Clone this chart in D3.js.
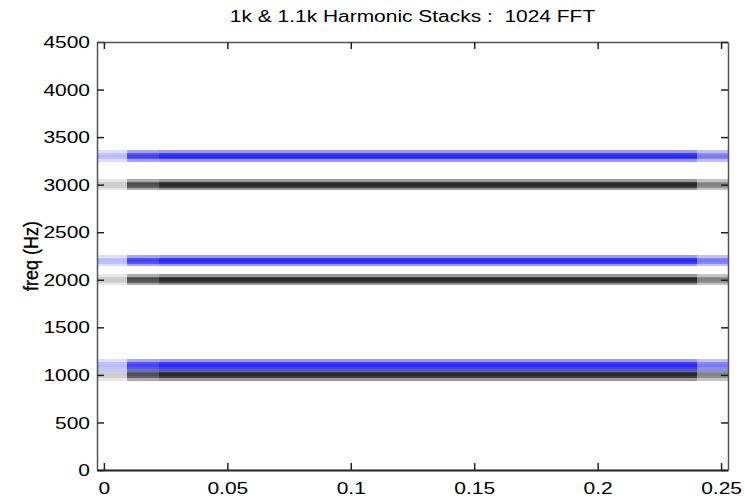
<!DOCTYPE html>
<html><head><meta charset="utf-8">
<script src="https://cdn.jsdelivr.net/npm/d3@7"></script>
<style>
html,body{margin:0;padding:0;background:#fff;}
svg{display:block;font-family:"Liberation Sans",Arial,sans-serif;}
</style></head><body>
<svg id="chart" width="745" height="501"></svg>
<script>
// Harmonic partials of the two tones (Hz)
const blackHarmonics = [1000, 2000, 3000];
const blueHarmonics = [1100, 2200, 3300];
// Relative widening of each partial's ridge (leakage across FFT bins)
const blackSpread = [1.0, 1.0, 1.0];
const blueSpread = [1.15, 1.0, 1.0];
// Spectrogram frames: edges in seconds and the level of each frame
const frameEdges = [-0.0028, 0.0093, 0.0223, 0.2403, 0.2528];
const blackFrameLevel = [0.24, 0.82, 1.0, 0.58];
const blueFrameLevel = [0.32, 0.88, 1.0, 0.62];
// Ridge cross-section: half-width around the partial (Hz) and magnitude
const ridgeHalfWidth = [60, 32, 16];
const ridgeMagnitude = [0.4, 0.76, 0.84];
// Axis ticks and texts
const xTicks = [0, 0.05, 0.1, 0.15, 0.2, 0.25];
const yTicks = [0, 500, 1000, 1500, 2000, 2500, 3000, 3500, 4000, 4500];
const titleText = "1k & 1.1k Harmonic Stacks :  1024 FFT";
const yLabelText = "freq (Hz)";

const svg = d3.select("#chart");
const W = 745, H = 501;
const plot = {left: 97, right: 728, top: 42, bottom: 470};
const sx = 1.31;     // horizontal stretch of the lettering
const fs = 16;

const x = d3.scaleLinear().domain([frameEdges[0], frameEdges[frameEdges.length - 1]]).range([plot.left, plot.right]);
const y = d3.scaleLinear().domain([0, 4500]).range([plot.bottom, plot.top]);

svg.append("rect").attr("width", W).attr("height", H).attr("fill", "#fff");

svg.append("clipPath").attr("id", "clip").append("rect")
  .attr("x", plot.left).attr("y", plot.top)
  .attr("width", plot.right - plot.left).attr("height", plot.bottom - plot.top);

const area = svg.append("g").attr("clip-path", "url(#clip)");
area.append("rect")
  .attr("x", plot.left).attr("y", plot.top)
  .attr("width", plot.right - plot.left).attr("height", plot.bottom - plot.top)
  .attr("fill", "#fff");

function ridgeCells(freqs, spread, frameLevel) {
  const cells = [];
  freqs.forEach((f, k) => {
    ridgeHalfWidth.forEach((hw, j) => {
      frameLevel.forEach((lv, i) => {
        cells.push({
          t0: frameEdges[i], t1: frameEdges[i + 1],
          f0: f - hw * spread[k], f1: f + hw * spread[k],
          level: ridgeMagnitude[j] * lv
        });
      });
    });
  });
  return cells;
}

const gray = l => { const v = Math.round(255 * (1 - l)); return d3.rgb(v, v, v).toString(); };
const blue = l => { const v = Math.round(255 * (1 - l)); return d3.rgb(v, v, 255).toString(); };

function drawRidges(cells, color, blend) {
  const g = area.append("g");
  if (blend) g.style("mix-blend-mode", "multiply");
  g.selectAll("rect").data(cells).join("rect")
    .attr("x", d => x(d.t0))
    .attr("width", d => x(d.t1) - x(d.t0))
    .attr("y", d => y(d.f1))
    .attr("height", d => y(d.f0) - y(d.f1))
    .attr("fill", d => color(d.level))
    .attr("shape-rendering", "crispEdges");
}

drawRidges(ridgeCells(blackHarmonics, blackSpread, blackFrameLevel), gray, false);
drawRidges(ridgeCells(blueHarmonics, blueSpread, blueFrameLevel), blue, true);

// Box axes with inward ticks
const tick = 7;
const axB = svg.append("g").attr("transform", `translate(0,${plot.bottom})`)
  .call(d3.axisBottom(x).tickValues(xTicks).tickSizeInner(-tick).tickSizeOuter(0).tickFormat(d3.format("")));
const axL = svg.append("g").attr("transform", `translate(${plot.left},0)`)
  .call(d3.axisLeft(y).tickValues(yTicks).tickSizeInner(-tick).tickSizeOuter(0).tickFormat(d3.format("")));
const axT = svg.append("g").attr("transform", `translate(0,${plot.top})`)
  .call(d3.axisTop(x).tickValues(xTicks).tickSizeInner(-tick).tickSizeOuter(0).tickFormat(""));
const axR = svg.append("g").attr("transform", `translate(${plot.right},0)`)
  .call(d3.axisRight(y).tickValues(yTicks).tickSizeInner(-tick).tickSizeOuter(0).tickFormat(""));

[axB, axL, axT, axR].forEach(a => {
  a.select(".domain").attr("stroke", "#555").attr("stroke-width", 1.5);
  a.selectAll(".tick line").attr("stroke", "#222").attr("stroke-width", 1.5);
  a.selectAll("text").attr("fill", "#000").attr("font-size", fs)
    .attr("font-family", '"Liberation Sans", Arial, sans-serif');
});
axB.select(".domain").attr("stroke", "#222").attr("stroke-width", 2);

axB.selectAll(".tick text")
  .attr("y", 0).attr("dy", 0)
  .attr("transform", `translate(0,24) scale(${sx},1)`);
axL.selectAll(".tick text")
  .attr("x", 0).attr("dy", "0.35em")
  .attr("transform", `translate(-7,0) scale(${sx},1)`);

svg.append("text")
  .attr("transform", `translate(${(plot.left + plot.right) / 2},22) scale(${sx},1)`)
  .attr("text-anchor", "middle")
  .attr("font-size", fs)
  .style("white-space", "pre")
  .text(titleText);

svg.append("text")
  .attr("transform", `translate(38,${(plot.top + plot.bottom) / 2}) rotate(-90) scale(1,1.1)`)
  .attr("text-anchor", "middle")
  .attr("font-size", 18)
  .attr("stroke", "#000").attr("stroke-width", 0.3)
  .text(yLabelText);
</script>
</body></html>
